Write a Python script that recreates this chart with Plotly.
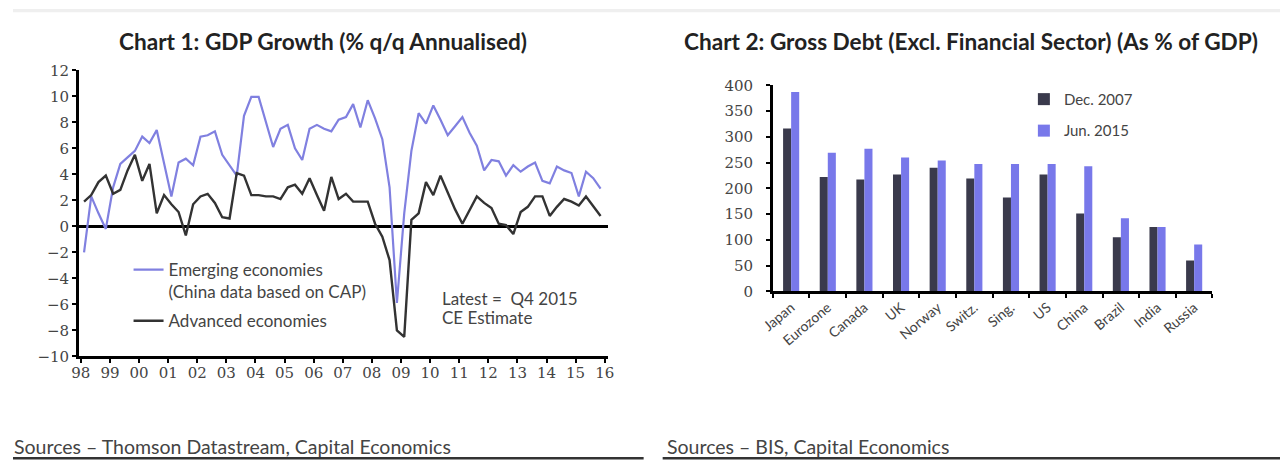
import pandas as pd
import plotly.graph_objects as go

# ---------------- Chart 1 data ----------------
quarters = pd.period_range("1998Q1", "2015Q4", freq="Q")
emerging = [-2.0, 2.3, 1.0, -0.2, 3.0, 4.8, 5.3, 5.8, 6.9, 6.4, 7.4, 4.8,
            2.3, 4.9, 5.2, 4.7, 6.9, 7.0, 7.3, 5.5, 4.7, 3.9, 8.5, 9.95,
            9.95, 8.0, 6.1, 7.5, 7.8, 6.0, 5.1, 7.5, 7.8, 7.5, 7.3, 8.2,
            8.4, 9.4, 7.6, 9.7, 8.3, 6.7, 3.0, -5.9, 1.0, 5.8, 8.7, 7.9,
            9.3, 8.2, 7.0, 7.7, 8.4, 7.2, 6.2, 4.3, 5.1, 5.0, 3.9, 4.7,
            4.2, 4.6, 4.9, 3.5, 3.3, 4.6, 4.3, 4.1, 2.3, 4.2, 3.7, 2.9]
advanced = [1.9, 2.4, 3.4, 3.9, 2.5, 2.8, 4.3, 5.5, 3.5, 4.8, 1.0, 2.4,
            1.7, 1.1, -0.7, 1.7, 2.3, 2.5, 1.8, 0.7, 0.6, 4.1, 3.9, 2.4,
            2.4, 2.3, 2.3, 2.1, 3.0, 3.2, 2.5, 3.7, 2.4, 1.2, 3.8, 2.1,
            2.5, 1.9, 1.9, 1.9, 0.2, -0.8, -2.6, -8.0, -8.5, 0.5, 1.0, 3.4,
            2.4, 3.9, 2.6, 1.3, 0.2, 1.2, 2.3, 1.8, 1.4, 0.2, 0.1, -0.6,
            1.1, 1.5, 2.3, 2.3, 0.8, 1.5, 2.1, 1.9, 1.6, 2.3, 1.6, 0.8]

# ---------------- Chart 2 data ----------------
countries = ["Japan", "Eurozone", "Canada", "UK", "Norway", "Switz.",
             "Sing.", "US", "China", "Brazil", "India", "Russia"]
dec2007 = [316, 222, 217, 227, 240, 219, 182, 227, 151, 105, 125, 60]
jun2015 = [387, 269, 277, 260, 254, 247, 247, 247, 243, 142, 125, 91]

# ---------------- styling ----------------
W, H = 1287, 468
BLUE_LINE = "#8080e0"
DARK_LINE = "#333333"
BAR_DARK = "#3a3a4c"
BAR_BLUE = "#7878ea"
TXT = "#444444"
SANS = "Lato, Open Sans, sans-serif"
SERIF = "DejaVu Serif, Liberation Serif, serif"

# the photographed page comes out slightly shrunk and offset; map target
# (picture) pixel positions back to figure positions
SX, OX = 0.983, 13.3
SY, OY = 0.9615, 8.7


def fxp(t):  # target x -> figure px
    return (t - OX) / SX


def fyp(t):  # target y -> figure px
    return (t - OY) / SY


def fx(t):
    return max(0.0, min(1.0, fxp(t) / W))


def fy(t):
    return max(0.0, min(1.0, 1 - fyp(t) / H))


x_dates = quarters.to_timestamp(how="start") + pd.Timedelta(days=40)

fig = go.Figure()
fig.add_trace(go.Scatter(
    x=x_dates, y=emerging, mode="lines", name="Emerging economies<br>(China data based on CAP)",
    line=dict(color=BLUE_LINE, width=2.2), xaxis="x", yaxis="y", legend="legend",
    legendgroup="em"))
fig.add_trace(go.Scatter(
    x=x_dates, y=advanced, mode="lines", name="Advanced economies",
    line=dict(color=DARK_LINE, width=2.4), xaxis="x", yaxis="y", legend="legend",
    legendgroup="adv"))

fig.add_trace(go.Bar(
    x=countries, y=dec2007, name="Dec. 2007", marker=dict(color=BAR_DARK, line=dict(width=0)),
    xaxis="x2", yaxis="y3", legend="legend2", legendgroup="a"))
fig.add_trace(go.Bar(
    x=countries, y=jun2015, name="Jun. 2015", marker=dict(color=BAR_BLUE, line=dict(width=0)),
    xaxis="x2", yaxis="y3", legend="legend2", legendgroup="b"))

axis_common = dict(showline=True, linecolor="black", linewidth=2.5, ticks="outside",
                   ticklen=4, tickwidth=2, tickcolor="black", showgrid=False,
                   zeroline=False, tickfont=dict(family=SERIF, size=15, color=TXT))

x1d = [fx(79), fx(607)]
y1d = [fy(356), fy(70)]
x2d = [fx(772), fx(1211)]
y2d = [fy(291), fy(85)]

fig.update_layout(
    width=W, height=H,
    margin=dict(l=0, r=0, t=0, b=0),
    paper_bgcolor="white", plot_bgcolor="rgba(0,0,0,0)",
    showlegend=True,
    barmode="group", bargap=0.56, bargroupgap=0.0,
    xaxis=dict(axis_common, domain=x1d, anchor="y", type="date",
               range=["1997-12-06", "2016-02-06"], tick0="1998-01-01", dtick="M12",
               tickformat="%y", ticklabelstandoff=-3),
    yaxis=dict(axis_common, domain=y1d, anchor="x", range=[-10, 12], dtick=2,
               zeroline=True, zerolinecolor="black", zerolinewidth=2.5,
               ticklabelstandoff=0),
    yaxis2=dict(axis_common, domain=y1d, anchor="x", overlaying="y", side="right",
                range=[-10, 12], dtick=2, ticklabelstandoff=1),
    xaxis2=dict(axis_common, domain=x2d, anchor="y3", type="category",
                tickson="boundaries", tickangle=-40,
                tickfont=dict(family=SANS, size=14, color=TXT)),
    yaxis3=dict(axis_common, domain=y2d, anchor="x2", range=[0, 400], dtick=50,
                ticklabelstandoff=10),
    yaxis4=dict(axis_common, domain=y2d, anchor="x2", overlaying="y3", side="right",
                range=[0, 400], dtick=50, ticklabelstandoff=14),
    legend=dict(x=(fxp(168) - 40) / W, y=1 - (fyp(270) - 19) / H,
                xanchor="left", yanchor="top",
                bgcolor="rgba(0,0,0,0)", font=dict(family=SANS, size=17, color=TXT),
                valign="top", itemwidth=30, tracegroupgap=4),
    legend2=dict(x=(fxp(1062) - 40) / W, y=1 - (fyp(97) - 15) / H,
                 xanchor="left", yanchor="top",
                 bgcolor="rgba(0,0,0,0)", font=dict(family=SANS, size=15, color=TXT),
                 tracegroupgap=9, itemsizing="constant"),
    shapes=[
        dict(type="rect", xref="paper", yref="paper", x0=0, x1=1, y0=fy(12), y1=1,
             fillcolor="#efefef", line=dict(width=0), layer="below"),
        dict(type="line", xref="paper", yref="paper", x0=fx(5), x1=fx(643),
             y0=fy(458), y1=fy(458), line=dict(color="#333333", width=2.5)),
        dict(type="line", xref="paper", yref="paper", x0=fx(662), x1=1,
             y0=fy(458), y1=fy(458), line=dict(color="#333333", width=2.5)),
    ],
    annotations=[
        dict(text="<b>Chart 1: GDP Growth (% q/q Annualised)</b>", xref="paper", yref="paper",
             x=fx(323), y=fy(41), xanchor="center", yanchor="middle", showarrow=False,
             font=dict(family=SANS, size=22.6, color="#222222")),
        dict(text="<b>Chart 2: Gross Debt (Excl. Financial Sector) (As % of GDP)</b>",
             xref="paper", yref="paper", x=fx(970), y=fy(41), xanchor="center",
             yanchor="middle", showarrow=False,
             font=dict(family=SANS, size=22.6, color="#222222")),
        dict(text="Latest =  Q4 2015", xref="paper", yref="paper",
             x=(fxp(443) - 3) / W, y=fy(298), xanchor="left", yanchor="middle", align="left",
             showarrow=False, font=dict(family=SANS, size=17, color=TXT)),
        dict(text="CE Estimate", xref="paper", yref="paper",
             x=(fxp(443) - 3) / W, y=fy(317), xanchor="left", yanchor="middle", align="left",
             showarrow=False, font=dict(family=SANS, size=17, color=TXT)),
        dict(text="Sources – Thomson Datastream, Capital Economics", xref="paper",
             yref="paper", x=(fxp(15) - 3) / W, y=fy(446), xanchor="left", yanchor="middle",
             showarrow=False, font=dict(family=SANS, size=19.5, color=TXT)),
        dict(text="Sources – BIS, Capital Economics", xref="paper",
             yref="paper", x=(fxp(667) - 3) / W, y=fy(446), xanchor="left", yanchor="middle",
             showarrow=False, font=dict(family=SANS, size=19.5, color=TXT)),
    ],
)

fig.write_html(
    "out.html",
    config={"displayModeBar": False},
    post_script="document.body.style.margin='0';document.body.style.padding='0';"
                "document.body.style.overflow='hidden';"
                "document.documentElement.style.overflow='hidden';"
                "document.documentElement.style.background="
                "'linear-gradient(#efefef 0px, #efefef 12px, #ffffff 12px)';"
                "document.body.style.background='transparent';",
)
